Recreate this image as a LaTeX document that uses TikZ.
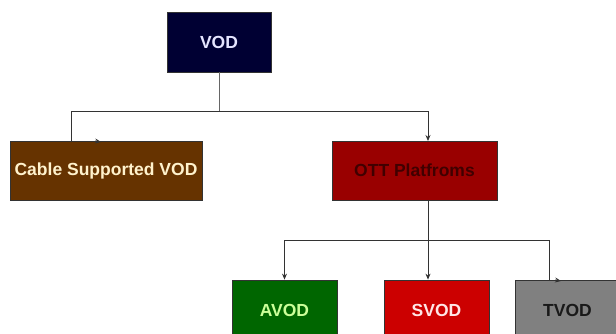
\documentclass[tikz,border=0pt]{standalone}
\usepackage{fontspec}
\setmainfont{Liberation Sans}
\usetikzlibrary{arrows.meta,positioning}
\usepackage{xcolor}
\definecolor{vodnavy}{HTML}{000033}
\definecolor{cablebrown}{HTML}{663300}
\definecolor{ottred}{HTML}{990000}
\definecolor{avodgreen}{HTML}{006600}
\definecolor{svodred}{HTML}{CC0000}
\definecolor{tvodgray}{HTML}{808080}
\definecolor{edgegray}{HTML}{333333}
\definecolor{avodtext}{HTML}{CCFF99}
\definecolor{cabletext}{HTML}{FFF2CC}

\begin{document}
\begin{tikzpicture}[
    x=1pt,y=-1pt,
    box/.style={draw=edgegray,line width=0.8pt,rectangle,minimum height=60pt,
        font=\fontsize{17.5}{20}\selectfont\bfseries,inner sep=0pt},
    link/.style={edgegray,line width=0.8pt},
    down/.style={link,-{Stealth[length=6pt,width=5pt]}}
]
\path[use as bounding box,clip] (0,0) rectangle (616,334);

\node[box,fill=vodnavy,text=white!90!blue,minimum width=104pt] (vod) at (219,42) {VOD};
\node[box,fill=cablebrown,text=cabletext,minimum width=192pt,minimum height=59pt] (cable) at (106,170.5) {Cable Supported VOD};
\node[box,fill=ottred,text=black!75!red,minimum width=165pt,minimum height=59pt] (ott) at (414.5,170.5) {OTT Platfroms};
\node[box,fill=avodgreen,text=avodtext,minimum width=105pt] (avod) at (284.5,310) {AVOD};
\node[box,fill=svodred,text=red!10,minimum width=105pt] (svod) at (436.5,310) {SVOD};
\node[box,fill=tvodgray,text=black!90,minimum width=105pt] (tvod) at (567.5,310) {TVOD};

\coordinate (top split) at (219,111);
\coordinate (cable in) at (71,141);
\coordinate (ott in) at (428,141);
\coordinate (ott out) at (428,200);
\coordinate (low split) at (428,240);
\coordinate (tvod in) at (549,280);

% VOD branches
\draw[link,black!60] (vod) -- (top split);
\draw[link] (top split) -| (cable in);
\draw[down] (top split) -| (ott in);
\draw[down] (95,141) -- (101,142);

% OTT branches
\draw[link] (ott out) -- (low split);
\draw[down] (low split) -| (avod.north);
\draw[down] (low split) -- (svod.north -| low split);
\draw[link] (low split) -| (tvod in);
\draw[down] (555,280) -- (561,281);
\end{tikzpicture}
\end{document}
